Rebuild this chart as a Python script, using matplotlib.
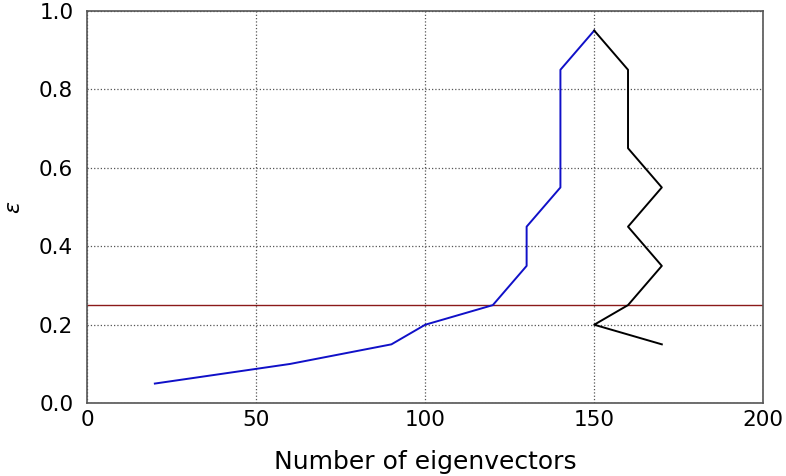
import numpy as np
import matplotlib
matplotlib.use('Agg')
import matplotlib.pyplot as plt

# --- Data ---
blue_x = [20, 60, 90, 100, 120, 130, 130, 140, 140, 150]
blue_y = [0.05, 0.10, 0.15, 0.20, 0.25, 0.35, 0.45, 0.55, 0.85, 0.95]

black_x = [150, 160, 160, 170, 160, 170, 160, 150, 170]
black_y = [0.95, 0.85, 0.65, 0.55, 0.45, 0.35, 0.25, 0.20, 0.15]

threshold = 0.25

x_ticks = [0, 50, 100, 150, 200]
y_ticks = [0.0, 0.2, 0.4, 0.6, 0.8, 1.0]

# --- Figure ---
fig = plt.figure(figsize=(7.86, 4.76), dpi=100)
ax = fig.add_axes([0.111, 0.153, 0.860, 0.824])

ax.axhline(threshold, color='#8b1a1a', linewidth=1.0)
ax.plot(blue_x, blue_y, color='#1010c8', linewidth=1.4)
ax.plot(black_x, black_y, color='black', linewidth=1.4)

ax.set_xlim(0, 200)
ax.set_ylim(0, 1)
ax.set_xticks(x_ticks)
ax.set_yticks(y_ticks)
ax.set_yticklabels(['%.1f' % v for v in y_ticks])
ax.tick_params(axis='both', length=0, labelsize=15.5)
ax.tick_params(axis='x', pad=5)
ax.tick_params(axis='y', pad=10)

ax.grid(True, linestyle=':', color='#555555', linewidth=0.9)
for s in ax.spines.values():
    s.set_color('#555555')
    s.set_linewidth(1.2)

ax.set_xlabel('Number of eigenvectors', fontsize=18, labelpad=14)
ax.set_ylabel(r'$\varepsilon$', fontsize=16, labelpad=11)

fig.savefig('out.png', dpi=100)
